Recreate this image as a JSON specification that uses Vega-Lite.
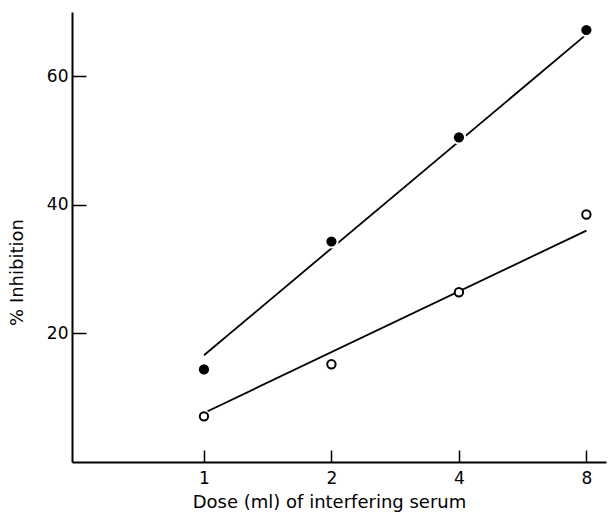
{
  "$schema": "https://vega.github.io/schema/vega-lite/v6.json",
  "autosize": {"type": "none"},
  "padding": {"left": 72, "top": 12, "right": 2, "bottom": 52},
  "width": 534,
  "height": 450,
  "background": "white",
  "config": {"view": {"stroke": null}, "font": "DejaVu Sans"},
  "datasets": {
    "points": [
      {"dose": 1, "inhibition": 14.4, "series": "filled"},
      {"dose": 2, "inhibition": 34.3, "series": "filled"},
      {"dose": 4, "inhibition": 50.5, "series": "filled"},
      {"dose": 8, "inhibition": 67.2, "series": "filled"},
      {"dose": 1, "inhibition": 7.1, "series": "open"},
      {"dose": 2, "inhibition": 15.2, "series": "open"},
      {"dose": 4, "inhibition": 26.4, "series": "open"},
      {"dose": 8, "inhibition": 38.5, "series": "open"}
    ],
    "fits": [
      {"dose": 1, "fit": 16.6, "series": "filled"},
      {"dose": 7.9, "fit": 66.2, "series": "filled"},
      {"dose": 1.02, "fit": 7.9, "series": "open"},
      {"dose": 8, "fit": 36.0, "series": "open"}
    ]
  },
  "encoding": {
    "x": {
      "field": "dose",
      "type": "quantitative",
      "scale": {"type": "log", "base": 2, "domain": [0.488, 8.9]},
      "axis": {
        "values": [1, 2, 4, 8],
        "format": "d",
        "grid": false,
        "domainColor": "black",
        "domainWidth": 2,
        "tickColor": "black",
        "tickWidth": 1.5,
        "tickSize": -12,
        "labelFontSize": 17,
        "labelColor": "black",
        "labelPadding": 20,
        "title": "Dose (ml) of interfering serum",
        "titleFontSize": 18,
        "titleFontWeight": "normal",
        "titleColor": "black",
        "titleX": 257,
        "titleY": 40,
        "titleAlign": "center",
        "titleBaseline": "middle"
      }
    }
  },
  "layer": [
    {
      "data": {"name": "fits"},
      "mark": {"type": "line", "color": "black", "strokeWidth": 1.8},
      "encoding": {
        "y": {
          "field": "fit",
          "type": "quantitative",
          "scale": {"domain": [0, 70]},
          "axis": {
            "values": [20, 40, 60],
            "grid": false,
            "domainColor": "black",
            "domainWidth": 2,
            "tickColor": "black",
            "tickWidth": 1.5,
            "tickSize": -14,
            "labelFontSize": 17,
            "labelColor": "black",
            "labelPadding": 18,
            "title": "% Inhibition",
            "titleFontSize": 18,
            "titleFontWeight": "normal",
            "titleColor": "black",
            "titleX": -55,
            "titleY": 260,
            "titleAlign": "center",
            "titleBaseline": "middle"
          }
        },
        "detail": {"field": "series"}
      }
    },
    {
      "data": {"name": "points"},
      "transform": [{"filter": "datum.series === 'filled'"}],
      "mark": {"type": "point", "shape": "circle", "filled": true, "fill": "black", "stroke": "white", "strokeWidth": 2, "size": 150, "opacity": 1},
      "encoding": {"y": {"field": "inhibition", "type": "quantitative"}}
    },
    {
      "data": {"name": "points"},
      "transform": [{"filter": "datum.series === 'open'"}],
      "mark": {"type": "point", "shape": "circle", "filled": true, "fill": "white", "stroke": "black", "strokeWidth": 2, "size": 70, "opacity": 1},
      "encoding": {"y": {"field": "inhibition", "type": "quantitative"}}
    }
  ]
}
